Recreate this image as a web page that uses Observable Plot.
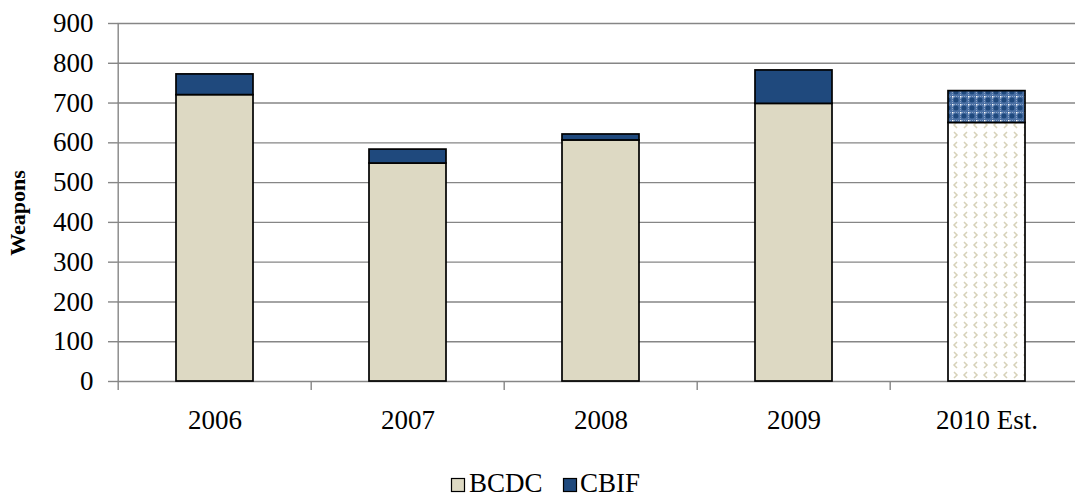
<!DOCTYPE html>
<html>
<head>
<meta charset="utf-8">
<script src="https://cdn.jsdelivr.net/npm/d3@7"></script>
<script src="https://cdn.jsdelivr.net/npm/@observablehq/plot@0.6"></script>
<style>
  html, body { margin: 0; padding: 0; background: #fff; }
  #wrap { position: relative; width: 1075px; height: 497px; overflow: hidden; }
  #wrap svg, #wrap svg text { font-family: "Liberation Serif", "Times New Roman", "DejaVu Serif", serif !important; }
  #legend { position: absolute; left: 0; top: 456px; }
</style>
</head>
<body>
<div id="wrap"></div>
<script>
// ---- data ----
const years = ["2006", "2007", "2008", "2009", "2010 Est."];
const bcdc = [720, 548, 606, 698, 650];
const cbif = [52, 35, 15, 84, 80];
const seriesNames = ["BCDC", "CBIF"];
const seriesColors = ["#DDD9C3", "#1F497D"];
const yTicks = [0, 100, 200, 300, 400, 500, 600, 700, 800, 900];
const estimateYear = "2010 Est.";
const yTitle = "Weapons";

// table built from arrays
const rows = [];
years.forEach((yr, i) => {
  if (yr !== estimateYear) {
    rows.push({year: yr, series: "BCDC", value: bcdc[i]});
    rows.push({year: yr, series: "CBIF", value: cbif[i]});
  }
});
const ei = years.indexOf(estimateYear);
const estRows = [{year: estimateYear, lo: 0, hi: bcdc[ei], series: "BCDC"},
                 {year: estimateYear, lo: bcdc[ei], hi: bcdc[ei] + cbif[ei], series: "CBIF"}];

const font = '"Liberation Serif", "Times New Roman", "DejaVu Serif", serif';
const xRange = [117, 1085];
const step = (xRange[1] - xRange[0]) / years.length;
const grid = "#868686";

const chart = Plot.plot({
  width: 1075,
  height: 460,
  marginLeft: 117,
  marginRight: 0,
  marginTop: 23,
  marginBottom: 79,
  style: {fontFamily: font, background: "white", color: "black"},
  x: {type: "band", domain: years, range: xRange, paddingInner: 0.6, paddingOuter: 0.3, axis: null},
  y: {domain: [0, 900], axis: null},
  color: {domain: seriesNames, range: seriesColors},
  marks: [
    Plot.ruleY(yTicks, {stroke: grid, strokeWidth: 1.4}),
    Plot.ruleX([years[0]], {dx: -step / 2, y1: 0, y2: 900, stroke: grid, strokeWidth: 1.4}),
    Plot.ruleX(years, {dx: -step / 2, y1: 0, y2: 0, insetBottom: -9, stroke: grid, strokeWidth: 1.4}),
    Plot.axisY({ticks: yTicks, tickSize: 9, tickPadding: 15, stroke: grid, strokeWidth: 1.4, fontSize: 27, label: null, color: "black"}),
    Plot.axisX({tickSize: 0, tickPadding: 28, fontSize: 27, label: null, color: "black"}),
    Plot.barY(rows, Plot.stackY({x: "year", y: "value", fill: "series", stroke: "black", strokeWidth: 1.7})),
    Plot.barY(estRows.filter(d => d.series === "BCDC"), {x: "year", y1: "lo", y2: "hi", fill: "url(#patBCDC)", stroke: "black", strokeWidth: 1.7}),
    Plot.barY(estRows.filter(d => d.series === "CBIF"), {x: "year", y1: "lo", y2: "hi", fill: "url(#patCBIF)", stroke: "black", strokeWidth: 1.7})
  ]
});

// patterns
const svg = d3.select(chart);
const defs = svg.insert("defs", ":first-child");
const p1 = defs.append("pattern").attr("id", "patBCDC").attr("patternUnits", "userSpaceOnUse")
  .attr("width", 20).attr("height", 20);
p1.append("rect").attr("width", 20).attr("height", 20).attr("fill", "white");
const chev = "#d6d1b8";
[[4, 2], [14, 12]].forEach(([x, y]) => p1.append("path").attr("d", `M${x},${y} l3,3 l-3,3`).attr("fill", "none").attr("stroke", chev).attr("stroke-width", 1.5));
[[17, 2], [7, 12]].forEach(([x, y]) => p1.append("path").attr("d", `M${x},${y} l-3,3 l3,3`).attr("fill", "none").attr("stroke", chev).attr("stroke-width", 1.5));
const p2 = defs.append("pattern").attr("id", "patCBIF").attr("patternUnits", "userSpaceOnUse")
  .attr("width", 8).attr("height", 8);
p2.append("rect").attr("width", 8).attr("height", 8).attr("fill", "#4a70a4");
p2.append("path").attr("d", "M0,0 H8 M0,0 V8").attr("stroke", "#d0daea").attr("stroke-width", 1).attr("stroke-dasharray", "1,1");
p2.append("circle").attr("cx", 4).attr("cy", 4).attr("r", 2.5).attr("fill", "#1F497D");
p2.append("rect").attr("x", 0).attr("y", 0).attr("width", 1.5).attr("height", 1.5).attr("fill", "white");

// y-axis title
svg.append("text").attr("transform", "translate(20,213) rotate(-90)")
  .attr("text-anchor", "middle").attr("dominant-baseline", "middle")
  .attr("font-family", font).attr("font-weight", "bold").attr("font-size", 22).attr("fill", "black")
  .text(yTitle);

document.getElementById("wrap").appendChild(chart);

// legend
const leg = d3.select("#wrap").append("svg").attr("id", "legend").attr("width", 1075).attr("height", 41);
const legItems = [{name: seriesNames[0], color: seriesColors[0], sx: 451, tx: 469},
                  {name: seriesNames[1], color: seriesColors[1], sx: 563, tx: 580}];
legItems.forEach(it => {
  leg.append("rect").attr("x", it.sx + 0.5).attr("y", 22.5).attr("width", 13).attr("height", 13)
    .attr("fill", it.color).attr("stroke", "black").attr("stroke-width", 1.2);
  leg.append("text").attr("x", it.tx).attr("y", 36).text(it.name)
    .attr("font-family", font).attr("font-size", 27).attr("fill", "black");
});
</script>
</body>
</html>
